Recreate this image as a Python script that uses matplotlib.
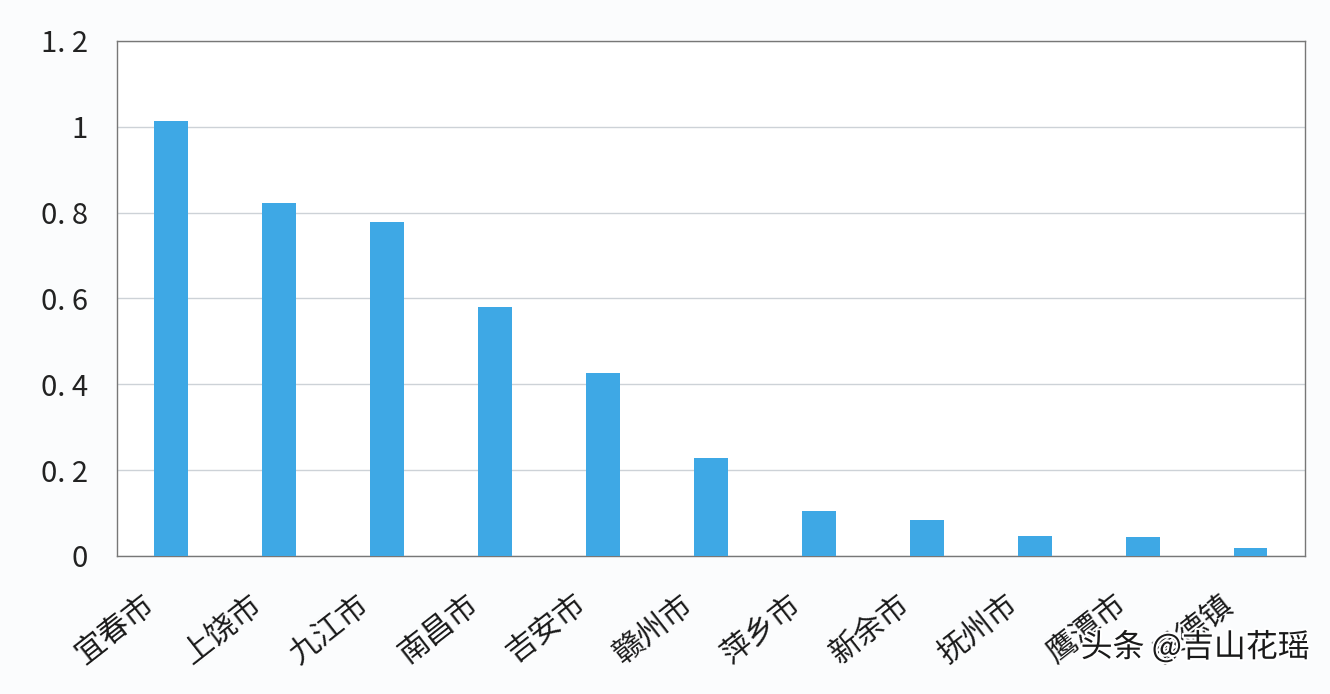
import matplotlib
matplotlib.use("Agg")
import matplotlib.pyplot as plt
from matplotlib.transforms import ScaledTranslation
import matplotlib.patheffects as pe

plt.rcParams['font.family'] = ['Noto Sans CJK SC', 'DejaVu Sans']

cities = ['宜春市', '上饶市', '九江市', '南昌市', '吉安市', '赣州市', '萍乡市', '新余市', '抚州市', '鹰潭市', '景德镇']
values = [1.013, 0.822, 0.778, 0.580, 0.426, 0.228, 0.104, 0.084, 0.047, 0.043, 0.018]
yticks = [0, 0.2, 0.4, 0.6, 0.8, 1.0, 1.2]
ytick_labels = ['0', '0. 2', '0. 4', '0. 6', '0. 8', '1', '1. 2']

fig = plt.figure(figsize=(13.3, 6.94), dpi=100)
fig.patch.set_facecolor('#fbfcfd')
ax = fig.add_axes([0.088, 0.199, 0.893, 0.742])
ax.set_facecolor('white')

x = list(range(len(cities)))
ax.bar(x, values, width=0.31, color='#3ea8e5', zorder=3)
ax.set_xlim(-0.5, len(cities) - 0.5)
ax.set_ylim(0, 1.2)
ax.set_yticks(yticks)
ax.set_yticklabels(ytick_labels, fontsize=21, color='#222222')
ax.yaxis.grid(True, color='#cdd2d7', linewidth=1.0, zorder=0)
ax.tick_params(axis='y', length=0, pad=21)
ax.tick_params(axis='x', length=0, pad=12)
ax.set_xticks(x)
ax.set_xticklabels(cities, rotation=38, ha='right', va='top', rotation_mode='anchor',
                   fontsize=22, color='#1a1a1a')
off = ScaledTranslation(-0.30, -0.17, fig.dpi_scale_trans)
for lbl in ax.get_xticklabels():
    lbl.set_transform(lbl.get_transform() + off)
for s in ax.spines.values():
    s.set_color('#777777')
    s.set_linewidth(1.0)

fig.text(0.985, 0.067, '头条 @吉山花瑶', ha='right', va='center', fontsize=23, color='#1a1a1a',
         path_effects=[pe.withStroke(linewidth=3, foreground='white')])

fig.savefig('out.png', dpi=100, facecolor=fig.get_facecolor())
